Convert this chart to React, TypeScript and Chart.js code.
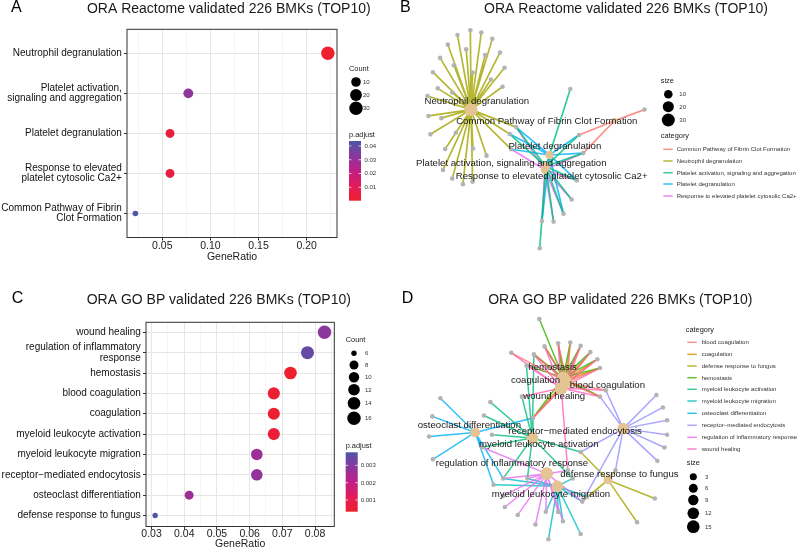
import React, { useEffect, useRef } from "react";
import { Chart, registerables } from "chart.js";

Chart.register(...registerables);

const SANS = '"Liberation Sans", Arial, Helvetica, sans-serif';

/* ======================= DATA ======================= */

// Panel A – ORA Reactome dot plot
const reactomeTerms: string[][] = [
  ["Neutrophil degranulation"],
  ["Platelet activation,", "signaling and aggregation"],
  ["Platelet degranulation"],
  ["Response to elevated", "platelet cytosolic Ca2+"],
  ["Common Pathway of Fibrin", "Clot Formation"],
];
const reactomeGeneRatio = [0.222, 0.077, 0.058, 0.058, 0.022];
const reactomeCount = [30, 11, 8, 8, 3];
const reactomePAdjust = [0.0003, 0.032, 0.004, 0.005, 0.0436];
const reactomeRatioMajor = [0.05, 0.1, 0.15, 0.2];
const reactomeRatioMinor = [0.025, 0.075, 0.125, 0.175, 0.225];
const reactomeCountBreaks = [10, 20, 30];
const reactomePAdjustBreaks = [0.01, 0.02, 0.03, 0.04];

// Panel C – ORA GO BP dot plot
const goTerms: string[][] = [
  ["wound healing"],
  ["regulation of inflammatory", "response"],
  ["hemostasis"],
  ["blood coagulation"],
  ["coagulation"],
  ["myeloid leukocyte activation"],
  ["myeloid leukocyte migration"],
  ["receptor\u2212mediated endocytosis"],
  ["osteoclast differentiation"],
  ["defense response to fungus"],
];
const goGeneRatio = [0.0829, 0.0777, 0.0725, 0.0674, 0.0674, 0.0674, 0.0622, 0.0622, 0.0415, 0.0311];
const goCount = [16, 15, 14, 13, 13, 13, 12, 12, 8, 6];
const goPAdjust = [0.0029, 0.0034, 0.00033, 0.0004, 0.0004, 0.0005, 0.0026, 0.0028, 0.0026, 0.00375];
const goRatioMajor = [0.03, 0.04, 0.05, 0.06, 0.07, 0.08];
const goRatioMinor = [0.035, 0.045, 0.055, 0.065, 0.075, 0.085];
const goCountBreaks = [6, 8, 10, 12, 14, 16];
const goPAdjustBreaks = [0.001, 0.002, 0.003];

// Panel B – Reactome gene-concept network (layout coordinates)
const reactomeCategories = [
  "Common Pathway of Fibrin Clot Formation",
  "Neutrophil degranulation",
  "Platelet activation, signaling and aggregation",
  "Platelet degranulation",
  "Response to elevated platelet cytosolic Ca2+",
];
const reactomeHubX = [215, 66.7, 144, 147.7, 143];
const reactomeHubY = [120, 108.3, 168, 156, 171.5];
const reactomeHubSize = [3, 30, 11, 8, 8];
const reactomeLabelX = [145, 72.7, 108.3, 153.3, 150];
const reactomeLabelY = [120.7, 100, 164.3, 146.7, 178.3];
const reactomeGeneX = [
  66, 77.3, 52.7, 88.7, 42.7, 96.7, 34.7, 61.7, 81.3, 49, 101.3, 27.3, 68.3, 87.3, 99.3, 32.3, 47.3, 21.7,
  22.7, 36, 24.7, 51, 40, 68.7, 82.7, 37.7, 47.3, 58.3, 68.3,
  113.3, 106.7, 108.3, 169.3, 178.3, 182.7, 176, 170.7, 162.3, 152, 140, 137.7, 246,
];
const reactomeGeneY = [
  25, 27.3, 30, 34, 40, 48.3, 54, 45, 51, 61.7, 64.3, 69, 69.3, 76.7, 84.3, 86, 90.3, 94,
  115, 117.3, 134.3, 132.7, 149.7, 149.3, 156.7, 171.7, 180.7, 186.7, 184,
  126.7, 134, 150, 86.7, 135, 154, 182.7, 202.7, 217.7, 226, 225.3, 254, 108.3,
];
const reactomeGeneMembers: number[][] = [
  [1], [1], [1], [1], [1], [1], [1], [1], [1], [1], [1], [1], [1], [1], [1], [1], [1], [1],
  [1], [1], [1], [1], [1], [1], [1], [1], [1], [1], [1],
  [1, 2, 3, 4], [1, 2, 3], [1, 3, 4], [2], [0, 2, 3], [0, 2, 3, 4], [2, 3, 4], [2, 4], [2, 3, 4], [2, 4], [2, 3, 4], [2], [0],
];
const reactomeSizeBreaks = [10, 20, 30];

// Panel D – GO BP gene-concept network (layout coordinates)
const goCategories = [
  "blood coagulation",
  "coagulation",
  "defense response to fungus",
  "hemostasis",
  "myeloid leukocyte activation",
  "myeloid leukocyte migration",
  "osteoclast differentiation",
  "receptor\u2212mediated endocytosis",
  "regulation of inflammatory response",
  "wound healing",
];
const goHubX = [166, 164, 208.3, 162, 130, 156, 71, 224, 145, 160];
const goHubY = [111, 109, 213.3, 106, 169.3, 220, 163.5, 159.5, 206.7, 117];
const goHubSize = [13, 13, 6, 14, 13, 12, 8, 12, 15, 16];
const goLabelX = [207.7, 133.3, 220, 151, 136.7, 149.3, 65, 174.3, 109, 152.7];
const goLabelY = [114, 109, 207.3, 95.7, 175.7, 228, 155.7, 162.3, 196, 126];
const goGeneX = [
  137.3, 108.3, 131.7, 142.7, 156.7, 169.3, 180, 190, 197.3, 200, 124, 200, 206, 119.3, 130.7, 166.7,
  35, 26.7, 23.3, 27.3, 78, 100, 90,
  86.7, 80, 88.3, 125, 180, 171.7,
  146.7, 180, 161.7, 144, 181.7, 186.7, 156.7,
  100, 101.7, 115, 133.3,
  258.3, 265, 269.3, 269.3, 266.7, 259.3, 216,
  256.7, 238.3,
];
const goGeneY = [
  44.5, 80, 81.7, 73.3, 70, 69.3, 72.7, 79.3, 86.7, 96, 93.3, 126, 119.3, 126, 148.3, 203.3,
  127.7, 146.7, 167.7, 191.7, 179, 211.7, 218.3,
  131.7, 145.7, 166, 211.7, 184, 211.7,
  275.5, 270, 256.7, 246.7, 236, 231, 247,
  230, 241.7, 250, 260,
  124.3, 137.3, 150.7, 166, 179.3, 193.3, 203.3,
  232.7, 257.7,
];
const goGeneMembers: number[][] = [
  [3], [9, 0], [0, 1, 3, 9, 4], [0, 1, 3, 9], [0, 1, 3, 9], [0, 1, 3], [0, 1, 3, 9], [0, 1, 3, 9], [0, 1, 3, 9], [0, 1, 3, 9],
  [3, 9, 4], [0, 1, 3, 9, 7], [7, 9, 0], [4, 9], [4, 3, 9, 6, 0, 1], [9, 8],
  [6], [6], [6], [6], [6, 4, 8], [6, 5, 8, 4], [6, 5],
  [4], [4], [4], [4, 8, 5], [4, 7, 2], [4, 5],
  [5], [5], [5, 8], [5, 8], [5, 8, 7, 2], [2, 5], [8, 5],
  [8], [8], [8], [8],
  [7], [7], [7], [7], [7], [7], [7, 2],
  [2], [2],
];
const goSizeBreaks = [3, 6, 9, 12, 15];

/* ======================= STYLE ======================= */

const RAMP = ["#EE1F2F", "#E21B5A", "#BF1F86", "#8B379E", "#4B56A6"];
const HUE5 = ["#F8766D", "#A3A500", "#00BF7D", "#00B0F6", "#E76BF3"];
const HUE10 = ["#F8766D", "#D89000", "#A3A500", "#39B600", "#00BF7D", "#00BFC4", "#00B0F6", "#9590FF", "#E76BF3", "#FF62BC"];
// drawing rank of edge layers (0 = on top)
const RANK5 = [0, 1, 2, 3, 4];
const RANK10 = [0, 9, 8, 2, 3, 5, 6, 7, 4, 1];
const HUB_COLOR = "#E5C494";
const GENE_COLOR = "#B3B3B3";

function hexRgb(h: string) {
  const v = parseInt(h.slice(1), 16);
  return [(v >> 16) & 255, (v >> 8) & 255, v & 255];
}
function rampColor(t: number) {
  const tt = Math.max(0, Math.min(1, t));
  const n = RAMP.length - 1;
  const i = Math.min(n - 1, Math.floor(tt * n));
  const f = tt * n - i;
  const a = hexRgb(RAMP[i]);
  const b = hexRgb(RAMP[i + 1]);
  const c = a.map((v, k) => Math.round(v + (b[k] - v) * f));
  return `rgb(${c[0]},${c[1]},${c[2]})`;
}
function withAlpha(h: string, a: number) {
  const [r, g, b] = hexRgb(h);
  return `rgba(${r},${g},${b},${a})`;
}

/* ======================= DOT PLOT ======================= */

type DotLayout = {
  w: number; h: number;
  plot: { left: number; top: number; right: number; bottom: number };
  xRange: [number, number]; yRange: [number, number]; xTickPad: number;
  letter: string; letterX: number; letterY: number;
  title: string; titleX: number; titleY: number; xlabY: number;
  legX: number; countTitleY: number; dotX: number; dotYs: number[]; dotLabX: number;
  padjTitleY: number; bar: { x: number; w: number; top: number; bottom: number }; barLabX: number; digits: number;
  rMin: number; rMax: number;
};

const LAYOUT_A: DotLayout = {
  w: 400, h: 270,
  plot: { left: 127, top: 29.3, right: 337, bottom: 237.5 },
  xRange: [0.0133, 0.2315], yRange: [0.4, 5.6], xTickPad: -0.5,
  letter: "A", letterX: 11, letterY: 11.8,
  title: "ORA Reactome validated 226 BMKs (TOP10)", titleX: 228.8, titleY: 12.5, xlabY: 256.7,
  legX: 349, countTitleY: 69.3, dotX: 356, dotYs: [82, 95, 108.3], dotLabX: 363,
  padjTitleY: 135.3, bar: { x: 349, w: 12, top: 141, bottom: 200.7 }, barLabX: 364.5, digits: 2,
  rMin: 2.8, rMax: 6.7,
};

const LAYOUT_C: DotLayout = {
  w: 400, h: 281,
  plot: { left: 146, top: 52.3, right: 334.3, bottom: 256.5 },
  xRange: [0.0283, 0.0859], yRange: [0.509, 10.54], xTickPad: -2,
  letter: "C", letterX: 11.7, letterY: 33.3,
  title: "ORA GO BP validated 226 BMKs (TOP10)", titleX: 218.8, titleY: 34, xlabY: 274.3,
  legX: 345.7, countTitleY: 70, dotX: 354, dotYs: [83.3, 95, 107.3, 119.7, 133.3, 148.3], dotLabX: 365,
  padjTitleY: 176, bar: { x: 345.7, w: 12, top: 182.3, bottom: 241.7 }, barLabX: 360.7, digits: 3,
  rMin: 2.7, rMax: 6.7,
};

function dotplotConfig(
  L: DotLayout, terms: string[][], ratio: number[], count: number[], padj: number[],
  major: number[], minor: number[], countBreaks: number[], padjBreaks: number[]
): any {
  const cMin = Math.min(...count), cMax = Math.max(...count);
  const pMin = Math.min(...padj), pMax = Math.max(...padj);
  const rad = (c: number) => L.rMin + (L.rMax - L.rMin) * Math.sqrt(Math.max(0, (c - cMin) / (cMax - cMin)));
  const col = (p: number) => rampColor((p - pMin) / (pMax - pMin));
  const isMajor = (v: number) => major.some((m) => Math.abs(m - v) < 1e-9);
  const allTicks = [...major, ...minor].sort((a, b) => a - b);

  const decor = {
    id: "dotDecor",
    afterDatasetsDraw(chart: any) {
      const { ctx, chartArea: a } = chart;
      ctx.save();
      ctx.strokeStyle = "#333333";
      ctx.lineWidth = 1;
      ctx.strokeRect(a.left, a.top, a.right - a.left, a.bottom - a.top);
      ctx.restore();
    },
    afterDraw(chart: any) {
      const { ctx, chartArea: a } = chart;
      ctx.save();
      ctx.fillStyle = "#000";
      ctx.textAlign = "left";
      ctx.textBaseline = "alphabetic";
      ctx.font = `16px ${SANS}`;
      ctx.fillText(L.letter, L.letterX, L.letterY);
      ctx.font = `14px ${SANS}`;
      ctx.textAlign = "center";
      ctx.fillStyle = "#1A1A1A";
      ctx.fillText(L.title, L.titleX, L.titleY);
      ctx.font = `10.5px ${SANS}`;
      ctx.textBaseline = "middle";
      ctx.fillText("GeneRatio", (a.left + a.right) / 2, L.xlabY);

      // size legend
      ctx.textAlign = "left";
      ctx.font = `7.4px ${SANS}`;
      ctx.fillText("Count", L.legX, L.countTitleY);
      ctx.font = `6px ${SANS}`;
      countBreaks.forEach((c, i) => {
        ctx.fillStyle = "#000";
        ctx.beginPath();
        ctx.arc(L.dotX, L.dotYs[i], rad(c), 0, Math.PI * 2);
        ctx.fill();
        ctx.fillStyle = "#333";
        ctx.fillText(String(c), L.dotLabX, L.dotYs[i] + 0.3);
      });

      // colour bar
      ctx.fillStyle = "#1A1A1A";
      ctx.font = `7.4px ${SANS}`;
      ctx.fillText("p.adjust", L.legX, L.padjTitleY);
      const b = L.bar;
      const g = ctx.createLinearGradient(0, b.bottom, 0, b.top);
      for (let i = 0; i <= 20; i++) g.addColorStop(i / 20, rampColor(i / 20));
      ctx.fillStyle = g;
      ctx.fillRect(b.x, b.top, b.w, b.bottom - b.top);
      ctx.font = `6px ${SANS}`;
      padjBreaks.forEach((v) => {
        const y = b.bottom - ((v - pMin) / (pMax - pMin)) * (b.bottom - b.top);
        ctx.strokeStyle = "rgba(255,255,255,0.9)";
        ctx.lineWidth = 0.8;
        ctx.beginPath();
        ctx.moveTo(b.x, y); ctx.lineTo(b.x + 2.4, y);
        ctx.moveTo(b.x + b.w - 2.4, y); ctx.lineTo(b.x + b.w, y);
        ctx.stroke();
        ctx.fillStyle = "#333";
        ctx.fillText(v.toFixed(L.digits), L.barLabX, y + 0.3);
      });
      ctx.restore();
    },
  };

  return {
    type: "scatter",
    data: {
      datasets: [
        {
          data: ratio.map((r, i) => ({ x: r, y: i + 1 })),
          pointRadius: (c: any) => rad(count[c.dataIndex]),
          pointHoverRadius: (c: any) => rad(count[c.dataIndex]),
          pointBackgroundColor: (c: any) => col(padj[c.dataIndex]),
          pointBorderWidth: 0,
          clip: false,
        },
      ],
    },
    options: {
      animation: false,
      responsive: false,
      events: [],
      layout: { padding: { left: 0, top: L.plot.top, right: L.w - L.plot.right, bottom: 0 } },
      plugins: { legend: { display: false }, tooltip: { enabled: false }, title: { display: false } },
      scales: {
        x: {
          type: "linear",
          min: L.xRange[0],
          max: L.xRange[1],
          afterBuildTicks: (s: any) => { s.ticks = allTicks.map((v) => ({ value: v })); },
          afterFit: (s: any) => { s.height = L.h - L.plot.bottom; },
          border: { display: false },
          grid: {
            color: (c: any) => (c.tick && isMajor(c.tick.value) ? "#E6E6E6" : "#F0F0F0"),
            lineWidth: (c: any) => (c.tick && isMajor(c.tick.value) ? 1 : 0.7),
            tickColor: (c: any) => (c.tick && isMajor(c.tick.value) ? "#333333" : "rgba(0,0,0,0)"),
            tickLength: 3,
            drawTicks: true,
          },
          ticks: {
            autoSkip: false, maxRotation: 0, minRotation: 0, padding: L.xTickPad,
            color: "#222", font: { family: SANS, size: 10.5 },
            callback: (v: number) => (isMajor(v) ? v.toFixed(2) : ""),
          },
        },
        y: {
          type: "linear",
          reverse: true,
          min: L.yRange[0],
          max: L.yRange[1],
          afterBuildTicks: (s: any) => { s.ticks = terms.map((_, i) => ({ value: i + 1 })); },
          afterFit: (s: any) => { s.width = L.plot.left; },
          border: { display: false },
          grid: { color: "#E6E6E6", lineWidth: 1, tickColor: "#333333", tickLength: 3, drawTicks: true },
          ticks: {
            autoSkip: false, padding: 2.2,
            color: "#111", font: { family: SANS, size: 10, lineHeight: 1.05 },
            callback: (v: number) => terms[Math.round(v) - 1],
          },
        },
      },
    },
    plugins: [decor],
  };
}

/* ======================= NETWORK ======================= */

type NetLayout = {
  w: number; h: number; edgeWidth: number;
  letter: string; letterX: number; letterY: number;
  title: string; titleX: number; titleY: number;
  cat: { titleX: number; titleY: number; lineX1: number; lineX2: number; labX: number; ys: number[] };
  size: { titleX: number; titleY: number; dotX: number; labX: number; ys: number[] };
};

const LAYOUT_B: NetLayout = {
  w: 399, h: 270, edgeWidth: 1.7,
  letter: "B", letterX: 0, letterY: 11.8,
  title: "ORA Reactome validated 226 BMKs (TOP10)", titleX: 226, titleY: 12.5,
  cat: { titleX: 260.7, titleY: 136, lineX1: 263.3, lineX2: 272.7, labX: 276.7, ys: [149.3, 161, 172.7, 184, 196] },
  size: { titleX: 260.7, titleY: 81, dotX: 268.3, labX: 279.3, ys: [94.3, 106.7, 120] },
};

const LAYOUT_D: NetLayout = {
  w: 399, h: 281, edgeWidth: 1.5,
  letter: "D", letterX: 1.7, letterY: 33.3,
  title: "ORA GO BP validated 226 BMKs (TOP10)", titleX: 220.3, titleY: 34,
  cat: { titleX: 285.7, titleY: 60, lineX1: 287.3, lineX2: 296.7, labX: 301.7, ys: [72.3, 84.3, 96, 107.7, 119.3, 131, 143.3, 155.3, 167.3, 179] },
  size: { titleX: 286.7, titleY: 193.3, dotX: 293.3, labX: 305, ys: [206.7, 218.3, 230, 243.3, 256.7] },
};

function networkConfig(
  L: NetLayout, categories: string[], colors: string[], rank: number[],
  hubX: number[], hubY: number[], hubSize: number[], labelX: number[], labelY: number[],
  geneX: number[], geneY: number[], members: number[][], sizeBreaks: number[],
  hubRadius: (c: number) => number
): any {
  const edges = categories.map((_, c) => {
    const pts: any[] = [];
    members.forEach((m, g) => {
      if (m.includes(c)) {
        pts.push({ x: hubX[c], y: hubY[c] }, { x: geneX[g], y: geneY[g] }, { x: NaN, y: NaN });
      }
    });
    return {
      data: pts,
      showLine: true,
      spanGaps: false,
      borderColor: withAlpha(colors[c], 0.8),
      borderWidth: L.edgeWidth,
      pointRadius: 0,
      pointHoverRadius: 0,
      clip: false,
      order: 10 + rank[c],
    };
  });

  const decor = {
    id: "netDecor",
    afterDatasetsDraw(chart: any) {
      const { ctx } = chart;
      const xs = chart.scales.x, ys = chart.scales.y;
      ctx.save();
      ctx.font = `9.6px ${SANS}`;
      ctx.fillStyle = "#1A1A1A";
      ctx.textAlign = "center";
      ctx.textBaseline = "middle";
      categories.forEach((name, i) => {
        ctx.fillText(name, xs.getPixelForValue(labelX[i]), ys.getPixelForValue(labelY[i]));
      });
      ctx.restore();
    },
    afterDraw(chart: any) {
      const { ctx } = chart;
      ctx.save();
      ctx.fillStyle = "#000";
      ctx.textAlign = "left";
      ctx.textBaseline = "alphabetic";
      ctx.font = `16px ${SANS}`;
      ctx.fillText(L.letter, L.letterX, L.letterY);
      ctx.font = `14px ${SANS}`;
      ctx.textAlign = "center";
      ctx.fillStyle = "#1A1A1A";
      ctx.fillText(L.title, L.titleX, L.titleY);

      ctx.textAlign = "left";
      ctx.textBaseline = "middle";
      // size legend
      ctx.font = `7.4px ${SANS}`;
      ctx.fillText("size", L.size.titleX, L.size.titleY);
      ctx.font = `6px ${SANS}`;
      sizeBreaks.forEach((s, i) => {
        ctx.fillStyle = "#000";
        ctx.beginPath();
        ctx.arc(L.size.dotX, L.size.ys[i], hubRadius(s), 0, Math.PI * 2);
        ctx.fill();
        ctx.fillStyle = "#333";
        ctx.fillText(String(s), L.size.labX, L.size.ys[i] + 0.3);
      });
      // category legend
      ctx.fillStyle = "#1A1A1A";
      ctx.font = `7.4px ${SANS}`;
      ctx.fillText("category", L.cat.titleX, L.cat.titleY);
      ctx.font = `6px ${SANS}`;
      categories.forEach((name, i) => {
        ctx.strokeStyle = withAlpha(colors[i], 0.8);
        ctx.lineWidth = 1.5;
        ctx.beginPath();
        ctx.moveTo(L.cat.lineX1, L.cat.ys[i]);
        ctx.lineTo(L.cat.lineX2, L.cat.ys[i]);
        ctx.stroke();
        ctx.fillStyle = "#333";
        ctx.fillText(name, L.cat.labX, L.cat.ys[i] + 0.3);
      });
      ctx.restore();
    },
  };

  return {
    type: "scatter",
    data: {
      datasets: [
        {
          data: hubX.map((x, i) => ({ x, y: hubY[i] })),
          pointRadius: (c: any) => hubRadius(hubSize[c.dataIndex]),
          pointHoverRadius: (c: any) => hubRadius(hubSize[c.dataIndex]),
          pointBackgroundColor: HUB_COLOR,
          pointBorderWidth: 0,
          clip: false,
          order: 0,
        },
        {
          data: geneX.map((x, i) => ({ x, y: geneY[i] })),
          pointRadius: 2.3,
          pointHoverRadius: 2.3,
          pointBackgroundColor: GENE_COLOR,
          pointBorderWidth: 0,
          clip: false,
          order: 1,
        },
        ...edges,
      ],
    },
    options: {
      animation: false,
      responsive: false,
      events: [],
      layout: { padding: 0 },
      plugins: { legend: { display: false }, tooltip: { enabled: false }, title: { display: false } },
      scales: {
        x: { type: "linear", display: false, min: 0, max: L.w },
        y: { type: "linear", display: false, min: 0, max: L.h, reverse: true },
      },
    },
    plugins: [decor],
  };
}

/* ======================= COMPONENTS ======================= */

function Panel({ left, top, width, height, make }: { left: number; top: number; width: number; height: number; make: () => any }) {
  const ref = useRef<HTMLCanvasElement | null>(null);
  useEffect(() => {
    if (!ref.current) return;
    const chart = new Chart(ref.current, make());
    return () => chart.destroy();
  }, []);
  return (
    <div style={{ position: "absolute", left, top, width, height }}>
      <canvas ref={ref} width={width} height={height} style={{ width, height, display: "block" }} />
    </div>
  );
}

export default function App() {
  const rB = (c: number) => 1.2 + 0.97 * Math.sqrt(c);
  const rD = (c: number) => 1.3 + 1.3 * Math.sqrt(c);
  return (
    <div style={{ position: "absolute", left: 0, top: 0, width: 799, height: 551, background: "#fff", overflow: "hidden" }}>
      <Panel left={0} top={0} width={400} height={270}
        make={() => dotplotConfig(LAYOUT_A, reactomeTerms, reactomeGeneRatio, reactomeCount, reactomePAdjust,
          reactomeRatioMajor, reactomeRatioMinor, reactomeCountBreaks, reactomePAdjustBreaks)} />
      <Panel left={400} top={0} width={399} height={270}
        make={() => networkConfig(LAYOUT_B, reactomeCategories, HUE5, RANK5, reactomeHubX, reactomeHubY, reactomeHubSize,
          reactomeLabelX, reactomeLabelY, reactomeGeneX, reactomeGeneY, reactomeGeneMembers, reactomeSizeBreaks, rB)} />
      <Panel left={0} top={270} width={400} height={281}
        make={() => dotplotConfig(LAYOUT_C, goTerms, goGeneRatio, goCount, goPAdjust,
          goRatioMajor, goRatioMinor, goCountBreaks, goPAdjustBreaks)} />
      <Panel left={400} top={270} width={399} height={281}
        make={() => networkConfig(LAYOUT_D, goCategories, HUE10, RANK10, goHubX, goHubY, goHubSize,
          goLabelX, goLabelY, goGeneX, goGeneY, goGeneMembers, goSizeBreaks, rD)} />
    </div>
  );
}
